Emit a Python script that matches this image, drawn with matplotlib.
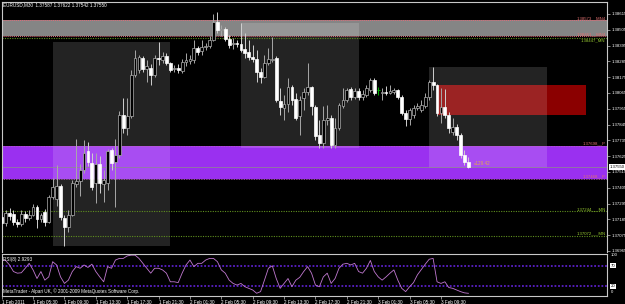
import numpy as np
import matplotlib
matplotlib.use("Agg")
import matplotlib.pyplot as plt
from matplotlib.patches import Rectangle

plt.rcParams['font.family'] = ['Liberation Sans', 'DejaVu Sans']

# EURUSD M30, bars from 1 Feb 2011 01:30
opens = [1.37201, 1.37159, 1.37229, 1.37222, 1.37166, 1.37153, 1.37222, 1.37194, 1.37215, 1.37271,
         1.37187, 1.37236, 1.37166, 1.37340, 1.37327, 1.37417, 1.37194, 1.37132, 1.37215, 1.37431,
         1.37452, 1.37528, 1.37661, 1.37577, 1.37438, 1.37570, 1.37431, 1.37438, 1.37668, 1.37584,
         1.37633, 1.37911, 1.37821, 1.37904, 1.38190, 1.38225, 1.38308, 1.38232, 1.38239, 1.38190,
         1.38308, 1.38294, 1.38322, 1.38273, 1.38232, 1.38239, 1.38218, 1.38280, 1.38287, 1.38294,
         1.38378, 1.38357, 1.38385, 1.38392, 1.38434, 1.38559, 1.38503, 1.38510, 1.38440, 1.38406,
         1.38413, 1.38406, 1.38371, 1.38350, 1.38315, 1.38301, 1.38211, 1.38176, 1.38273, 1.38294,
         1.38308, 1.38009, 1.37960, 1.37988, 1.38106, 1.38023, 1.37904, 1.38030, 1.38072, 1.38106,
         1.37967, 1.37772, 1.37716, 1.37877, 1.37890, 1.37702, 1.37821, 1.37974, 1.38016, 1.38092,
         1.38037, 1.38078, 1.38037, 1.38051, 1.38085, 1.38155, 1.38085, 1.38065, 1.38072, 1.38065,
         1.38072, 1.38085, 1.38037, 1.37925, 1.37883, 1.37911, 1.37960, 1.37946, 1.37974, 1.38037,
         1.38141, 1.38120, 1.37925, 1.37967, 1.37911, 1.37793, 1.37828, 1.37772, 1.37633, 1.37587]
highs = [1.37271, 1.37250, 1.37264, 1.37250, 1.37187, 1.37250, 1.37243, 1.37250, 1.37292, 1.37285,
         1.37229, 1.37257, 1.37354, 1.37473, 1.37563, 1.37431, 1.37215, 1.37250, 1.37459, 1.37744,
         1.37570, 1.37737, 1.37723, 1.37647, 1.37647, 1.37626, 1.37528, 1.37675, 1.37682, 1.37744,
         1.37939, 1.38030, 1.38030, 1.38225, 1.38364, 1.38329, 1.38322, 1.38294, 1.38266, 1.38329,
         1.38420, 1.38350, 1.38343, 1.38280, 1.38259, 1.38266, 1.38301, 1.38343, 1.38329, 1.38434,
         1.38392, 1.38434, 1.38413, 1.38461, 1.38615, 1.38628, 1.38538, 1.38524, 1.38468, 1.38447,
         1.38434, 1.38552, 1.38482, 1.38434, 1.38399, 1.38364, 1.38239, 1.38329, 1.38378, 1.38454,
         1.38322, 1.38099, 1.38051, 1.38169, 1.38120, 1.38065, 1.38044, 1.38099, 1.38273, 1.38113,
         1.37981, 1.37877, 1.37974, 1.37981, 1.37911, 1.37890, 1.37995, 1.38099, 1.38099, 1.38106,
         1.38099, 1.38099, 1.38085, 1.38120, 1.38169, 1.38169, 1.38106, 1.38099, 1.38113, 1.38120,
         1.38099, 1.38092, 1.38051, 1.37946, 1.37960, 1.37981, 1.37995, 1.38016, 1.38065, 1.38155,
         1.38246, 1.38127, 1.38099, 1.38092, 1.37932, 1.37890, 1.37849, 1.37786, 1.37668, 1.37622]
lows = [1.37076, 1.37139, 1.37180, 1.37146, 1.37132, 1.37139, 1.37166, 1.37180, 1.37208, 1.37125,
        1.37166, 1.37139, 1.37159, 1.37327, 1.37278, 1.37180, 1.36999, 1.37097, 1.37208, 1.37410,
        1.37347, 1.37508, 1.37556, 1.37389, 1.37299, 1.37368, 1.37306, 1.37389, 1.37528, 1.37271,
        1.37612, 1.37786, 1.37772, 1.37890, 1.38176, 1.38204, 1.38211, 1.38141, 1.38120, 1.38176,
        1.38259, 1.38273, 1.38259, 1.38211, 1.38211, 1.38204, 1.38204, 1.38253, 1.38266, 1.38273,
        1.38329, 1.38329, 1.38364, 1.38378, 1.38427, 1.38482, 1.38461, 1.38427, 1.38378, 1.38371,
        1.38385, 1.38350, 1.38308, 1.38294, 1.38280, 1.38141, 1.38134, 1.38169, 1.38259, 1.38280,
        1.38002, 1.37911, 1.37877, 1.37932, 1.37981, 1.37877, 1.37772, 1.37946, 1.38051, 1.37911,
        1.37737, 1.37682, 1.37682, 1.37842, 1.37682, 1.37682, 1.37807, 1.37960, 1.38002, 1.38016,
        1.38023, 1.38016, 1.38016, 1.38037, 1.38072, 1.38051, 1.38051, 1.38016, 1.38051, 1.38058,
        1.38058, 1.38023, 1.37911, 1.37835, 1.37842, 1.37890, 1.37946, 1.37932, 1.37960, 1.38016,
        1.38085, 1.37904, 1.37856, 1.37890, 1.37786, 1.37772, 1.37737, 1.37612, 1.37563, 1.37542]
closes = [1.37159, 1.37229, 1.37208, 1.37166, 1.37153, 1.37222, 1.37194, 1.37215, 1.37271, 1.37187,
          1.37215, 1.37166, 1.37340, 1.37410, 1.37417, 1.37201, 1.37132, 1.37215, 1.37438, 1.37452,
          1.37528, 1.37647, 1.37584, 1.37410, 1.37570, 1.37438, 1.37459, 1.37661, 1.37577, 1.37633,
          1.37911, 1.37821, 1.37904, 1.38190, 1.38308, 1.38315, 1.38232, 1.38253, 1.38190, 1.38308,
          1.38301, 1.38322, 1.38273, 1.38225, 1.38239, 1.38225, 1.38280, 1.38294, 1.38301, 1.38378,
          1.38350, 1.38385, 1.38392, 1.38434, 1.38559, 1.38503, 1.38510, 1.38440, 1.38399, 1.38413,
          1.38406, 1.38364, 1.38343, 1.38315, 1.38301, 1.38211, 1.38176, 1.38273, 1.38301, 1.38301,
          1.38016, 1.37967, 1.37988, 1.38106, 1.38016, 1.37890, 1.38016, 1.38072, 1.38106, 1.37974,
          1.37765, 1.37716, 1.37877, 1.37890, 1.37702, 1.37821, 1.37981, 1.38016, 1.38085, 1.38037,
          1.38078, 1.38037, 1.38058, 1.38099, 1.38155, 1.38065, 1.38085, 1.38072, 1.38065, 1.38078,
          1.38085, 1.38037, 1.37925, 1.37883, 1.37946, 1.37960, 1.37974, 1.37981, 1.38037, 1.38141,
          1.38120, 1.37925, 1.37967, 1.37911, 1.37821, 1.37828, 1.37772, 1.37633, 1.37584, 1.37550]
rsi8 = [84, 83, 72, 56, 52, 53, 64, 76, 60, 39,
        56, 35, 43, 80, 72, 43, 27, 35, 56, 68,
        64, 72, 66, 74, 56, 43, 31, 68, 64, 84,
        88, 88, 94, 96, 96, 88, 76, 64, 52, 64,
        64, 60, 52, 31, 31, 29, 52, 72, 84, 68,
        76, 76, 84, 88, 88, 80, 60, 52, 35, 27,
        23, 27, 19, 15, 11, 3, 7, 35, 64, 70,
        39, 15, 27, 39, 19, 35, 42, 56, 68, 52,
        23, 19, 43, 52, 27, 39, 64, 74, 76, 72,
        76, 56, 52, 64, 83, 56, 43, 35, 43, 52,
        60, 35, 15, 7, 19, 29, 48, 61, 74, 86,
        88, 31, 27, 31, 17, 15, 11, 7, 4, 2.9293]

time_bars = [0, 8, 16, 24, 32, 40, 48, 56, 64, 72, 80, 88, 96, 104, 112]
time_labels = ['1 Feb 2011', '1 Feb 05:30', '1 Feb 09:30', '1 Feb 13:30', '1 Feb 17:30',
               '1 Feb 21:30', '2 Feb 01:30', '2 Feb 05:30', '2 Feb 09:30', '2 Feb 13:30',
               '2 Feb 17:30', '2 Feb 21:30', '3 Feb 01:30', '3 Feb 05:30', '3 Feb 09:30']
price_ticks = [1.38615, 1.38505, 1.38395, 1.38285, 1.38175, 1.38065, 1.37955, 1.37845,
               1.37735, 1.37625, 1.37515, 1.37405, 1.37295, 1.37185, 1.37075, 1.36965]

zone_mn4 = [1.38573, 1.38461]
zone_p = [1.37698, 1.37468]
mn_lines = [1.38447, 1.37244, 1.37072]
session_start = [13, 61, 109]
session_len = 30
target_box = [111, 149, 1.38120, 1.37911]
target_text = '«129.42'
rsi_levels = [70, 20]

o, h, l, c = (np.array(v) for v in (opens, highs, lows, closes))
n = len(c)
x = np.arange(n)

W, H = 625.0, 304.0
fig = plt.figure(figsize=(6.25, 3.04), dpi=100, facecolor='black')
ax = fig.add_axes([1.7 / W, 1 - 252 / H, 605.3 / W, 250.3 / H], facecolor='black')
ax2 = fig.add_axes([1.7 / W, 1 - 295.5 / H, 605.3 / W, 42 / H], facecolor='black')
xmax = 605.3 / 3.922
ax.set_xlim(0, xmax)
ax.set_ylim(1.36958, 1.38700)

# zones
ax.axhspan(zone_p[1], zone_p[0], color='#9A30F0', lw=0, zorder=1)
ax.axhspan(zone_mn4[1], zone_mn4[0], color='#858585', lw=0, zorder=1)
for y in zone_mn4:
    ax.axhline(y, color='#E06A78', lw=0.7, ls=(0, (1, 1)), zorder=2)
for y in zone_p:
    ax.axhline(y, color='#C060C8', lw=0.6, ls=(0, (1, 1)), zorder=2)
ax.add_patch(Rectangle((target_box[0], target_box[3]), target_box[1] - target_box[0],
                       target_box[2] - target_box[3], fc='#8B0000', lw=0, zorder=1))
for s in session_start:
    hi = h[s:s + session_len + 1].max()
    lo = l[s:s + session_len + 1].min()
    ax.add_patch(Rectangle((s, lo), session_len, hi - lo, fc='white', alpha=0.14, lw=0, zorder=1.5))
for y in mn_lines:
    ax.axhline(y, color='#5F8F1F', lw=0.8, ls=(0, (1, 1.2)), zorder=2)
ax.axhline(c[-1], color='#8C8C8C', lw=0.5, zorder=2)

# candles
up = c > o
dn = c < o
doji = c == o
wick_col = np.where(up, '#A8A8A8', '#D0D0D0').astype(object)
wick_col[doji] = '#00B000'
ax.vlines(x, l, h, colors=list(wick_col), lw=0.7, zorder=3)
body_lo = np.minimum(o, c)
body_h = np.abs(c - o)
ax.bar(x[up], body_h[up], bottom=body_lo[up], width=0.72, color='black',
       edgecolor='#B0B0B0', lw=0.5, zorder=4)
ax.bar(x[dn], body_h[dn], bottom=body_lo[dn], width=0.72, color='white',
       edgecolor='white', lw=0.5, zorder=4)
ax.hlines(c[doji], x[doji] - 0.36, x[doji] + 0.36, colors='#00B000', lw=0.7, zorder=4)

# object labels
fs = 3.1
ax.text(xmax - 0.4, zone_mn4[0], f'{zone_mn4[0]:.5f}__MN4', ha='right', va='bottom', fontsize=fs, color='#E07070', zorder=5)
ax.text(xmax - 0.4, zone_mn4[1], f'{zone_mn4[1]:.5f}__MN4', ha='right', va='bottom', fontsize=fs, color='#E07070', zorder=5)
ax.text(xmax - 0.4, mn_lines[0], f'{mn_lines[0]:.5f}_MN', ha='right', va='top', fontsize=fs, color='#9ACD32', zorder=5)
ax.text(xmax - 0.4, zone_p[0], f'{zone_p[0]:.5f}__P', ha='right', va='bottom', fontsize=fs, color='#E07070', zorder=5)
ax.text(xmax - 0.4, zone_p[1], f'{zone_p[1]:.5f}__P', ha='right', va='bottom', fontsize=fs, color='#E07070', zorder=5)
for y in mn_lines[1:]:
    ax.text(xmax - 0.4, y, f'{y:.5f}___MN', ha='right', va='bottom', fontsize=fs, color='#9ACD32', zorder=5)
ax.text(n + 0.5, c[-1] + 0.00027, target_text, ha='left', va='center', fontsize=3.3, color='#E0A850', zorder=5)

# price axis
ax.yaxis.tick_right()
ax.set_yticks(price_ticks)
ax.set_yticklabels([f'{p:.5f}' for p in price_ticks])
ax.tick_params(axis='y', color='#C0C0C0', labelcolor='white', labelsize=fs, length=2, width=0.5, pad=1)
ax.set_xticks([])
ax.text(1.004, c[-1], f'{c[-1]:.5f}', transform=ax.get_yaxis_transform(), ha='left', va='center',
        fontsize=fs, color='black', bbox=dict(boxstyle='square,pad=0.15', fc='white', ec='none'),
        zorder=6, clip_on=False)
for side, sp in ax.spines.items():
    sp.set_color('#C8C8C8')
    sp.set_linewidth(0.8)
ax.spines['bottom'].set_visible(False)

# RSI window
ax2.set_xlim(0, xmax)
ax2.set_ylim(-2.44, 100)
for lv in rsi_levels:
    ax2.axhline(lv, color='#5A20C8', lw=1.3, ls=(0, (1, 1)))
ax2.plot(x, rsi8, color='#C078D0', lw=0.6)
ax2.set_yticks([])
for sp in ax2.spines.values():
    sp.set_color('#C8C8C8')
    sp.set_linewidth(0.8)
ax2.set_xticks(time_bars)
ax2.set_xticklabels(time_labels, ha='left', fontsize=3.3, color='white')
ax2.tick_params(axis='x', color='#C0C0C0', length=2, width=0.5, pad=1)
tr = ax2.get_yaxis_transform()
ax2.text(1.006, 100, '100', transform=tr, ha='left', va='top', fontsize=fs, color='white', clip_on=False)
ax2.text(1.006, 0, '0', transform=tr, ha='left', va='bottom', fontsize=fs, color='white', clip_on=False)
for lv in rsi_levels:
    ax2.text(1.006, lv, str(lv), transform=tr, ha='left', va='center', fontsize=fs, color='black',
             bbox=dict(boxstyle='square,pad=0.1', fc='white', ec='none'), clip_on=False)

# window captions
fig.text(3 / W, 1 - 5 / H, f'EURUSD,M30  {o[-1]:.5f} {h[-1]:.5f} {l[-1]:.5f} {c[-1]:.5f}',
         color='white', fontsize=3.3, va='center')
fig.text(3 / W, 1 - 259 / H, f'RSI(8) {rsi8[-1]:.4f}', color='white', fontsize=3.3, va='center')
fig.text(3 / W, 1 - 291 / H, 'MetaTrader - Alpari UK, © 2001-2009 MetaQuotes Software Corp.',
         color='white', fontsize=3.3, va='center')

fig.savefig('out.png', dpi=100, facecolor='black')
